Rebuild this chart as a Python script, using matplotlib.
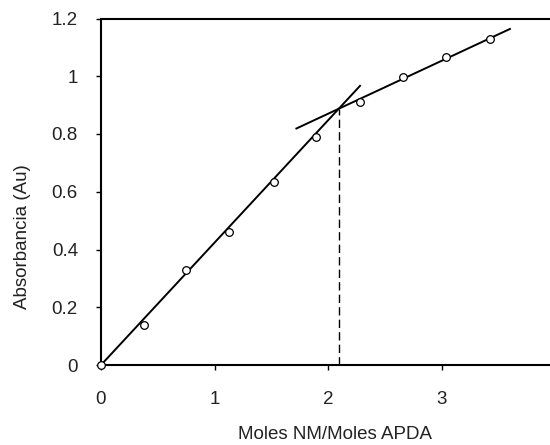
import matplotlib
matplotlib.use("Agg")
import matplotlib.pyplot as plt
import numpy as np

plt.rcParams['font.family'] = ['Liberation Sans', 'DejaVu Sans']

# Data
ratio = [0.0, 0.38, 0.75, 1.13, 1.52, 1.89, 2.28, 2.66, 3.04, 3.42]
absorb = [0.0, 0.137, 0.33, 0.46, 0.634, 0.79, 0.912, 0.997, 1.068, 1.13]

# Linear fits (slope, intercept) and their drawn x-ranges
fit1_slope, fit1_intercept = 0.424, 0.0
fit1_range = [0.0, 2.28]
fit2_slope, fit2_intercept = 0.1834, 0.5036
fit2_range = [1.72, 3.6]

xticks = [0, 1, 2, 3]
yticks = [0, 0.2, 0.4, 0.6, 0.8, 1.0, 1.2]
xlabels = ['0', '1', '2', '3']
ylabels = ['0', '0.2', '0.4', '0.6', '0.8', '1', '1.2']

W, H = 550, 445
fig = plt.figure(figsize=(W / 100, H / 100), dpi=100)
ax = fig.add_axes([101 / W, (H - 365) / H, 454.4 / W, 346.5 / H])

x1 = np.array(fit1_range)
ax.plot(x1, fit1_slope * x1 + fit1_intercept, color='black', lw=1.4, zorder=2)
x2 = np.array(fit2_range)
ax.plot(x2, fit2_slope * x2 + fit2_intercept, color='black', lw=1.4, zorder=2)

xi = (fit2_intercept - fit1_intercept) / (fit1_slope - fit2_slope)
yi = fit1_slope * xi + fit1_intercept
ax.plot([xi, xi], [0, yi], color='black', lw=1.0, dashes=(6, 3), zorder=2)

ax.plot(ratio, absorb, linestyle='none', marker='o', ms=5.5, mfc='white',
        mec='black', mew=0.9, zorder=3, clip_on=False)

ax.set_xlim(0, 4)
ax.set_ylim(0, 1.2)
ax.set_xticks(xticks)
ax.set_xticklabels(xlabels)
ax.set_yticks(yticks)
ax.set_yticklabels(ylabels)

for s in ax.spines.values():
    s.set_linewidth(1.5)
ax.tick_params(direction='out', length=3.6, width=1, colors='black',
               labelcolor='#222222', labelsize=13.5)
ax.tick_params(axis='x', pad=15)
ax.tick_params(axis='y', pad=13)

ax.set_xlabel('Moles NM/Moles APDA', fontsize=13.5, color='#222222')
ax.set_ylabel('Absorbancia (Au)', fontsize=13.5, color='#222222')
ax.xaxis.set_label_coords((335 - 101) / 454.4, -(426 - 365) / 346.5)
ax.yaxis.set_label_coords(-(101 - 31) / 454.4, (365 - 237) / 346.5)

fig.savefig('out.png', dpi=100)
